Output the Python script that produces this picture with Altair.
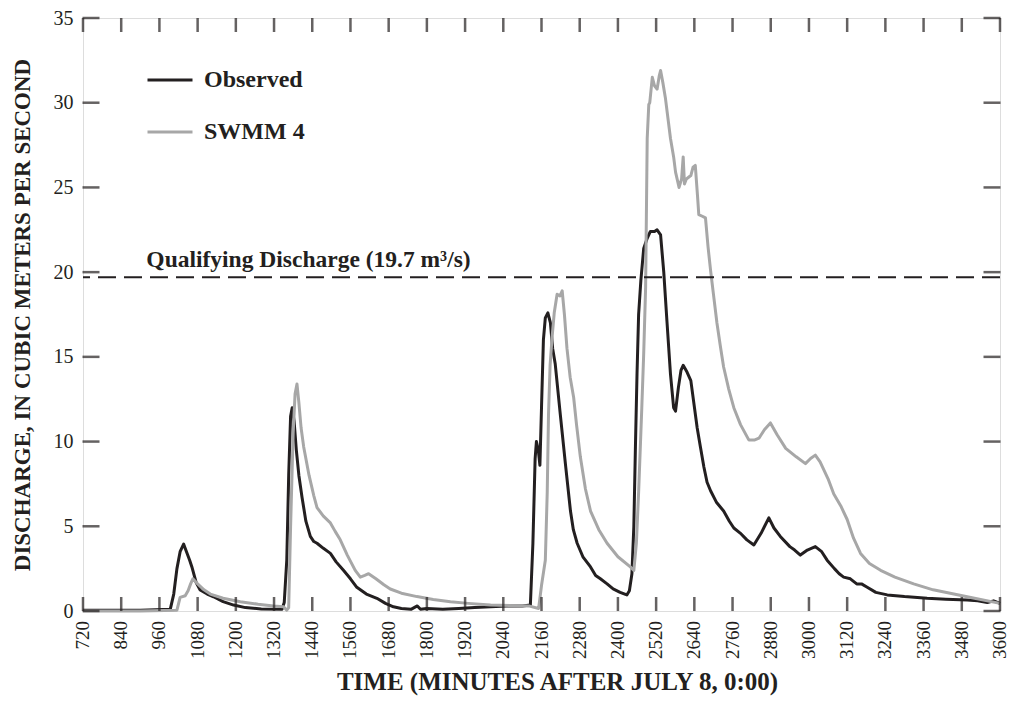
import altair as alt
import pandas as pd

# Observed discharge (minutes after July 8, 0:00 ; m3/s)
obs_t = [720, 800, 900, 994, 1005, 1015, 1025, 1036, 1045, 1055, 1062, 1075, 1088, 1110, 1130,
         1160, 1193, 1230, 1280, 1345, 1352, 1360, 1366, 1372, 1377, 1383, 1390, 1398, 1408,
         1420, 1434, 1445, 1455, 1475, 1497, 1515, 1538, 1560, 1580, 1610, 1643, 1670, 1695,
         1720, 1750, 1770, 1780, 1800, 1850, 1900, 1950, 2000, 2050, 2100, 2125, 2133, 2140,
         2144, 2150, 2155, 2160, 2166, 2172, 2180, 2188, 2195, 2203, 2219, 2235, 2251, 2260,
         2272, 2290, 2314, 2330, 2345, 2366, 2385, 2407, 2428, 2436, 2444, 2450, 2455, 2460,
         2465, 2472, 2481, 2492, 2502, 2515, 2523, 2534, 2544, 2554, 2565, 2575, 2581, 2590,
         2598, 2605, 2617, 2629, 2649, 2659, 2670, 2680, 2691, 2710, 2732, 2750, 2764, 2784,
         2805, 2827, 2850, 2874, 2890, 2910, 2940, 2955, 2973, 2995, 3020, 3040, 3057, 3080,
         3095, 3109, 3130, 3150, 3165, 3183, 3210, 3246, 3300, 3371, 3430, 3497, 3530, 3560,
         3580, 3600]
obs_v = [0.05, 0.05, 0.05, 0.1, 1.0, 2.5, 3.5, 3.95, 3.5, 3.0, 2.6, 1.7, 1.24, 1.0, 0.84,
         0.55, 0.35, 0.2, 0.12, 0.1, 0.5, 3.0, 8.0, 11.5, 12.0, 11.2, 9.5, 8.0, 6.7,
         5.3, 4.4, 4.1, 4.0, 3.7, 3.4, 2.9, 2.4, 1.9, 1.4, 1.0, 0.75, 0.45, 0.25,
         0.15, 0.1, 0.3, 0.1, 0.15, 0.1, 0.15, 0.2, 0.25, 0.3, 0.3, 0.35, 4.0, 9.0,
         10.0, 9.5, 8.6, 12.0, 16.0, 17.3, 17.6, 17.0, 15.5, 14.6, 11.6, 8.7, 5.9, 4.8,
         4.0, 3.2, 2.6, 2.1, 1.9, 1.6, 1.3, 1.1, 0.95, 1.2, 2.2, 5.0, 9.7, 14.0,
         17.5, 19.5, 21.4, 22.0, 22.4, 22.4, 22.5, 22.2, 20.0, 17.1, 14.0, 12.0, 11.8, 13.2,
         14.2, 14.5, 14.1, 13.6, 10.8, 9.7, 8.5, 7.6, 7.1, 6.4, 5.9, 5.3, 4.9, 4.6,
         4.2, 3.9, 4.6, 5.5, 4.9, 4.4, 3.8, 3.6, 3.3, 3.6, 3.8, 3.5, 3.0, 2.5,
         2.2, 2.0, 1.9, 1.6, 1.6, 1.4, 1.1, 0.95, 0.85, 0.75, 0.7, 0.65, 0.6, 0.5,
         0.6, 0.45]

# SWMM 4 simulated discharge
sim_t = [720, 900, 1015, 1025, 1041, 1050, 1058, 1065, 1080, 1100, 1120, 1160, 1214, 1270,
         1318, 1350, 1360, 1366, 1372, 1380, 1386, 1392, 1398, 1405, 1413, 1430, 1445, 1455,
         1475, 1497, 1512, 1528, 1550, 1575, 1591, 1605, 1617, 1640, 1665, 1685, 1720, 1769,
         1820, 1874, 1930, 2000, 2060, 2120, 2151, 2160, 2172, 2178, 2182, 2187, 2193, 2200,
         2209, 2218, 2225, 2232, 2240, 2250, 2261, 2270, 2282, 2298, 2314, 2340, 2366, 2400,
         2439, 2450, 2458, 2465, 2475, 2481, 2487, 2492, 2497, 2500, 2508, 2515, 2523, 2530,
         2534, 2541, 2549, 2565, 2575, 2581, 2592, 2600, 2605, 2609, 2615, 2622, 2629, 2636,
         2643, 2650, 2654, 2665, 2675, 2683, 2691, 2700, 2711, 2722, 2732, 2748, 2764, 2785,
         2811, 2830, 2843, 2860, 2879, 2900, 2927, 2960, 2989, 3005, 3020, 3035, 3060, 3078,
         3100, 3120, 3140, 3162, 3190, 3225, 3270, 3329, 3390, 3455, 3520, 3600]
sim_v = [0.0, 0.0, 0.05, 0.8, 0.9, 1.2, 1.6, 1.9, 1.6, 1.25, 1.0, 0.75, 0.55, 0.4,
         0.3, 0.25, 0.05, 0.2, 5.0, 10.5, 12.8, 13.4, 12.3, 10.8, 9.7, 8.0, 6.8, 6.1,
         5.6, 5.2, 4.7, 4.2, 3.3, 2.4, 2.0, 2.1, 2.2, 1.9, 1.55, 1.3, 1.05, 0.85,
         0.68, 0.55, 0.45, 0.35, 0.33, 0.3, 0.15, 1.5, 3.0, 7.0, 11.6, 14.5, 16.1, 17.6,
         18.7, 18.6, 18.9, 17.5, 15.5, 13.8, 12.6, 11.0, 9.1, 7.2, 5.9, 4.8, 4.0, 3.2,
         2.6, 2.4, 4.0, 7.0, 12.0, 15.2, 19.1, 27.9, 29.9, 30.0, 31.5, 31.0, 30.8, 31.6,
         31.9, 31.2, 30.3, 27.9, 26.8, 25.9, 25.0, 25.5, 26.8, 25.2, 25.5, 25.6, 25.7, 26.2,
         26.3, 24.5, 23.4, 23.3, 23.2, 21.5, 20.1, 18.7, 17.0, 15.6, 14.4, 13.1, 12.0, 11.0,
         10.1, 10.1, 10.2, 10.7, 11.1, 10.4, 9.6, 9.1, 8.7, 9.0, 9.2, 8.8, 7.8, 6.9,
         6.2, 5.4, 4.3, 3.4, 2.8, 2.4, 2.0, 1.6, 1.25, 1.0, 0.75, 0.45]

x_ticks = list(range(720, 3601, 120))
x_tick_labels = [str(v) for v in x_ticks]
y_ticks = [0, 5, 10, 15, 20, 25, 30, 35]
series_names = ["Observed", "SWMM 4"]
series_colors = ["#231f20", "#a7a7a7"]
qualifying = 19.7

FONT = "Liberation Serif"
INK = "#231f20"

df = pd.concat([
    pd.DataFrame({"t": obs_t, "q": obs_v, "series": "Observed", "order": range(len(obs_t))}),
    pd.DataFrame({"t": sim_t, "q": sim_v, "series": "SWMM 4", "order": range(len(sim_t))}),
])

xscale = alt.Scale(domain=[720, 3600], nice=False, zero=False)
yscale = alt.Scale(domain=[0, 35], nice=False)

x_axis = alt.Axis(values=x_ticks, labels=False, ticks=False, domain=False, grid=False,
                  title="TIME (MINUTES AFTER JULY 8, 0:00)", titleFont=FONT,
                  titleFontSize=25, titleFontWeight="bold", titleColor=INK, titlePadding=58,
                  titleX=474, titleAlign="center")
y_axis = alt.Axis(values=y_ticks, labelOverlap=False, ticks=False, domain=False, grid=False,
                  labelFont=FONT, labelFontSize=20, labelColor=INK, labelPadding=10,
                  title="DISCHARGE, IN CUBIC METERS PER SECOND", titleFont=FONT,
                  titleFontSize=23, titleFontWeight="bold", titleColor=INK, titlePadding=19)

X = lambda f: alt.X(f, scale=xscale, axis=x_axis)
Y = lambda f: alt.Y(f, scale=yscale, axis=y_axis)

lines = alt.Chart(df).mark_line(strokeWidth=3, strokeJoin="round").encode(
    x=X("t:Q"),
    y=Y("q:Q"),
    color=alt.Color("series:N",
                    scale=alt.Scale(domain=series_names, range=series_colors),
                    legend=alt.Legend(orient="none", legendX=63, legendY=38, title=None,
                                      symbolType="stroke", symbolSize=2025,
                                      symbolStrokeWidth=3, rowPadding=16, padding=0,
                                      labelFont=FONT, labelFontSize=24,
                                      labelFontWeight="bold", labelColor=INK,
                                      labelOffset=10)),
    order="order:Q",
)

qline = alt.Chart(pd.DataFrame({"q": [qualifying]})).mark_rule(
    color=INK, strokeWidth=2, strokeDash=[18, 8]).encode(y=Y("q:Q"))

qtext = alt.Chart(pd.DataFrame({"t": [919], "q": [qualifying],
                                "label": ["Qualifying Discharge (19.7 m³/s)"]})).mark_text(
    font=FONT, fontSize=23.5, fontWeight="bold", color=INK, align="left",
    baseline="alphabetic", dy=-10).encode(x=X("t:Q"), y=Y("q:Q"), text="label:N")

xt = pd.DataFrame({"t": x_ticks, "lab": x_tick_labels})
yt = pd.DataFrame({"q": y_ticks})

# x tick labels, rotated to read bottom-to-top
xlabels = alt.Chart(xt).mark_text(font=FONT, fontSize=19, color=INK, angle=270,
                                  align="right", baseline="middle", dx=-10).encode(
    x=X("t:Q"), y=alt.datum(0), text="lab:N")

bottom_ticks = alt.Chart(xt).mark_tick(orient="vertical", size=14, thickness=2.5,
                                       color=INK, yOffset=-7).encode(
    x=X("t:Q"), y=alt.datum(0))
top_ticks = alt.Chart(xt).mark_tick(orient="vertical", size=14, thickness=2.5,
                                    color=INK, yOffset=7).encode(
    x=X("t:Q"), y=alt.datum(35))
left_ticks = alt.Chart(yt).mark_tick(orient="horizontal", size=17, thickness=2.5,
                                     color=INK, xOffset=8).encode(
    y=Y("q:Q"), x=alt.datum(720))
right_ticks = alt.Chart(yt).mark_tick(orient="horizontal", size=17, thickness=2.5,
                                      color=INK, xOffset=-8).encode(
    y=Y("q:Q"), x=alt.datum(3600))

chart = alt.layer(lines, qline, qtext, xlabels, bottom_ticks, top_ticks, left_ticks,
                  right_ticks).properties(
    width=917, height=593, autosize=alt.AutoSizeParams(type="none"),
    padding={"left": 75, "top": 10, "right": 10, "bottom": 86},
).configure_view(stroke=INK, strokeWidth=2.5).configure_axis(
    labelOverlap=False).configure(background="white")

chart.save("out.html", embed_options={"renderer": "svg", "actions": False})
